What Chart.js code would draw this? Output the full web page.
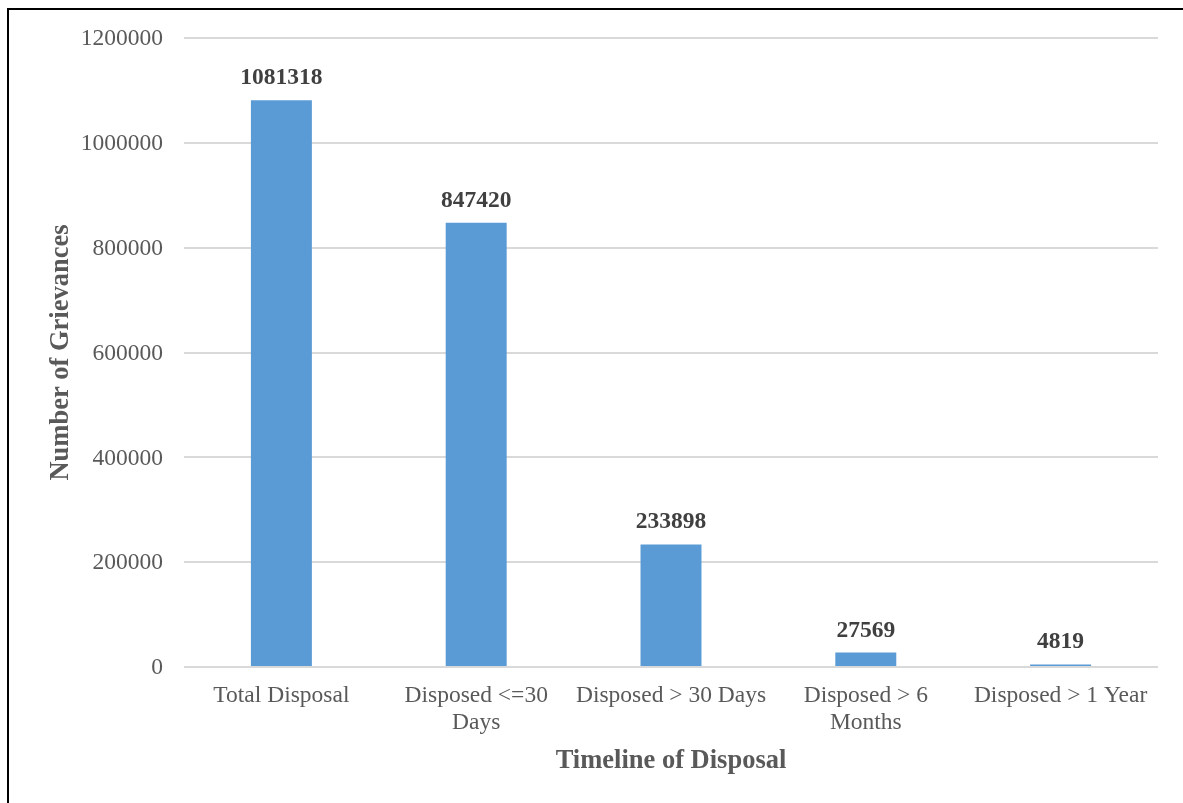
<!DOCTYPE html>
<html>
<head>
<meta charset="utf-8">
<script src="https://cdn.jsdelivr.net/npm/chart.js@4"></script>
<style>
  html, body { margin: 0; padding: 0; background: #ffffff; overflow: hidden; }
  #wrap { position: relative; width: 1183px; height: 803px; }
  #frame { position: absolute; left: 7px; top: 8px; width: 1200px; height: 820px;
           border-left: 2px solid #000; border-top: 2px solid #000; pointer-events: none; }
  canvas { position: absolute; left: 0; top: 0; }
</style>
</head>
<body>
<div id="wrap">
  <canvas id="c" width="1183" height="803"></canvas>
  <div id="frame"></div>
</div>
<script>
// ---- data ----
const categories = [
  ["Total Disposal"],
  ["Disposed <=30", "Days"],
  ["Disposed > 30 Days"],
  ["Disposed > 6", "Months"],
  ["Disposed > 1 Year"]
];
const grievances = [1081318, 847420, 233898, 27569, 4819];
const yMin = 0;
const yMax = 1200000;
const yStep = 200000;
const yTitle = "Number of Grievances";
const xTitle = "Timeline of Disposal";

// ---- style ----
const SERIF = "'Liberation Serif', 'Times New Roman', serif";
const TEXT_GRAY = "#595959";
const LABEL_DARK = "#404040";
const BAR_BLUE = "#5B9BD5";
const GRID = "#D9D9D9";

const valueLabels = {
  id: "valueLabels",
  afterDatasetsDraw(chart) {
    const ctx = chart.ctx;
    const meta = chart.getDatasetMeta(0);
    const data = chart.data.datasets[0].data;
    ctx.save();
    ctx.font = "bold 23.5px " + SERIF;
    ctx.fillStyle = LABEL_DARK;
    ctx.textAlign = "center";
    ctx.textBaseline = "alphabetic";
    meta.data.forEach((bar, i) => {
      ctx.fillText(String(data[i]), bar.x, bar.y - 16);
    });
    ctx.restore();
  }
};

new Chart(document.getElementById("c"), {
  type: "bar",
  data: {
    labels: categories,
    datasets: [{
      data: grievances,
      backgroundColor: BAR_BLUE,
      borderWidth: 0,
      categoryPercentage: 1.0,
      barPercentage: 0.313
    }]
  },
  options: {
    responsive: false,
    animation: false,
    devicePixelRatio: 1,
    layout: { padding: { top: 38, right: 25, bottom: 0, left: 0 } },
    plugins: {
      legend: { display: false },
      tooltip: { enabled: false },
      title: { display: false }
    },
    scales: {
      x: {
        grid: { display: false, drawTicks: false },
        border: { display: false },
        ticks: {
          color: TEXT_GRAY,
          font: { family: SERIF, size: 23.5, lineHeight: 1.17 },
          padding: 15,
          maxRotation: 0,
          minRotation: 0,
          autoSkip: false
        },
        title: {
          display: true,
          text: xTitle,
          color: TEXT_GRAY,
          font: { family: SERIF, size: 26.5, weight: "bold" },
          padding: { top: 0, bottom: 26 }
        },
        afterFit(scale) { scale.height = 136; }
      },
      y: {
        min: yMin,
        max: yMax,
        grid: { color: GRID, lineWidth: 2, drawTicks: false },
        border: { display: false },
        ticks: {
          stepSize: yStep,
          color: TEXT_GRAY,
          font: { family: SERIF, size: 23.5 },
          padding: 21,
          labelOffset: 1,
          callback: (v) => String(v)
        },
        title: {
          display: true,
          text: yTitle,
          color: TEXT_GRAY,
          font: { family: SERIF, size: 26.5, weight: "bold" },
          padding: { top: 45, bottom: 0 }
        },
        afterFit(scale) { scale.width = 184; }
      }
    }
  },
  plugins: [valueLabels]
});
</script>
</body>
</html>
